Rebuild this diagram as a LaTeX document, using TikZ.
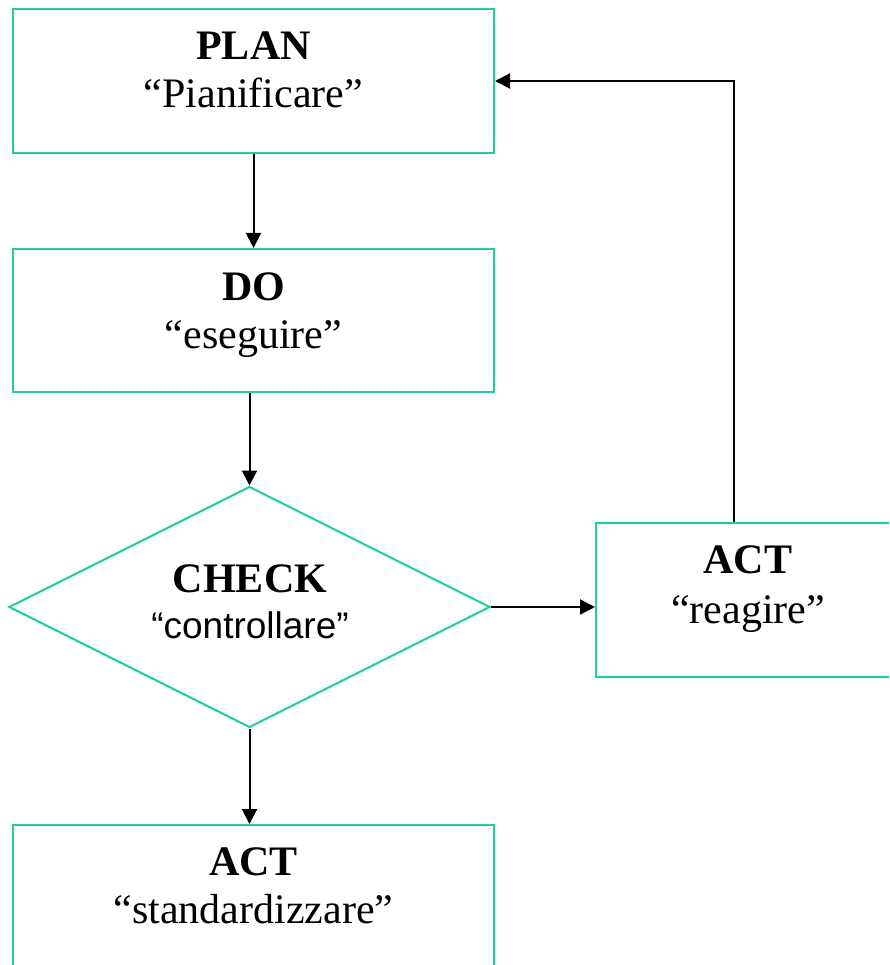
\documentclass[tikz,border=0pt]{standalone}
\usepackage{fontspec}
\setmainfont{Liberation Serif}
\newfontfamily\arialf{Liberation Sans}
\usetikzlibrary{shapes.geometric,arrows.meta}
\definecolor{tealline}{RGB}{32,204,160}
\begin{document}
\begin{tikzpicture}[x=1pt,y=-1pt,
  box/.style={draw=tealline,line width=2pt,rectangle,inner sep=0pt},
  ttl/.style={font=\fontsize{42}{50}\selectfont\bfseries,inner sep=0pt,anchor=base},
  sub/.style={font=\fontsize{42}{50}\selectfont,inner sep=0pt,anchor=base},
  subsans/.style={font=\arialf\fontsize{37}{45}\selectfont,inner sep=0pt,anchor=base},
  arr/.style={draw=black,line width=2pt,-{Triangle[length=15pt,width=15pt]}}]
\clip (0,0) rectangle (889,965);
% boxes
\node[box,minimum width=481pt,minimum height=144pt] (plan) at (253.5,81) {};
\node[box,minimum width=481pt,minimum height=143pt] (do) at (253.5,320.5) {};
\node[draw=tealline,line width=2pt,diamond,inner sep=0pt,minimum width=481pt,minimum height=241pt] (check) at (249.5,607) {};
\node[box,minimum width=304pt,minimum height=154pt] (actr) at (748,600) {};
\node[box,minimum width=481pt,minimum height=144pt] (acts) at (253.5,897) {};
% texts
\node[ttl] (planT) at (253.5,60) {PLAN};
\node[sub] (planS) at (253.5,108) {“Pianificare”};
\node[ttl] (doT) at (253.5,300) {DO};
\node[sub] (doS) at (253.5,348) {“eseguire”};
\node[ttl] (checkT) at (250,592) {CHECK};
\node[subsans] (checkS) at (250,638) {“controllare”};
\node[ttl] (actrT) at (748,573) {ACT};
\node[sub] (actrS) at (748,623) {“reagire”};
\node[ttl] (actsT) at (253.5,875) {ACT};
\node[sub] (actsS) at (253.5,923) {“standardizzare”};
% connectors
\draw[arr] (plan.south) -- (do.north);
\draw[arr] (do.south -| check.north) -- (check.north);
\draw[arr] (check.east) -- (check.east -| actr.west);
\draw[arr] ([xshift=-14pt]actr.north) |- (plan.east);
\draw[arr] (check.south) -- (check.south |- acts.north);
\end{tikzpicture}
\end{document}
